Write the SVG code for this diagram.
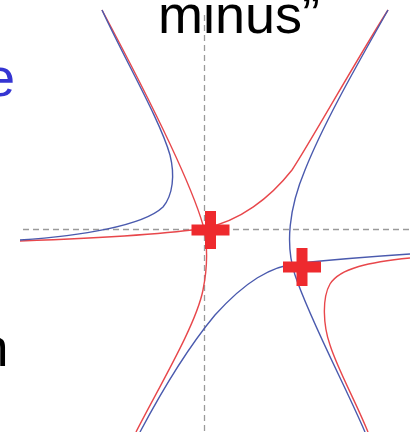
<svg xmlns="http://www.w3.org/2000/svg" width="410" height="432" viewBox="0 0 410 432">
<defs>
<style>
.axis{fill:none;stroke:#9a9a9a;stroke-width:1.3;stroke-dasharray:6 4}
.red{fill:none;stroke:#e8474b;stroke-width:1.4}
.blue{fill:none;stroke:#4a5aae;stroke-width:1.4}
.plus{fill:#ee2a2e}
.txt{font-family:"Liberation Sans",Arial,sans-serif;font-size:54px}
</style>
<path id="plus" d="M-5.5,-19H5.5V-5.5H19V5.5H5.5V19H-5.5V5.5H-19V-5.5H-5.5Z"/>
</defs>
<rect width="410" height="432" fill="#ffffff"/>
<g id="axes">
<line class="axis" x1="23" y1="229.5" x2="410" y2="229.5"/>
<line class="axis" x1="204.5" y1="15" x2="204.5" y2="432"/>
</g>
<g id="curves">
<path class="red" d="M102,10 C150,100 190,180 203,225 C208,245 208,265 203,290 C196,325 160,385 136,432"/>
<path class="red" d="M20,241 C100,238 170,234 205,228 C240,221 270,198 292,170 C310,143 355,62 388,10"/>
<path class="red" d="M410,258 C370,262 340,268 330,284 C322,298 323,325 330,345 C338,370 355,400 368,432"/>
<path class="blue" d="M102,10 C125,60 160,120 170,155 C175,175 173,195 163,207 C143,226 80,236 20,240"/>
<path class="blue" d="M388,10 C360,60 325,120 305,170 C289,208 285,245 295,275 C310,320 345,385 365,432"/>
<path class="blue" d="M140,432 C165,385 190,345 215,315 C245,282 270,266 300,263 C340,259 380,256 410,254"/>
</g>
<g id="saddle1"><use href="#plus" class="plus" x="210.5" y="230"/></g>
<g id="saddle2"><use href="#plus" class="plus" x="302" y="267"/></g>
<g id="labels">
<text class="txt" x="158" y="33" fill="#000000">minus”</text>
<text class="txt" x="-15" y="96" fill="#3535d2">e</text>
<text class="txt" x="-21.5" y="366" fill="#000000">n</text>
</g>
</svg>
